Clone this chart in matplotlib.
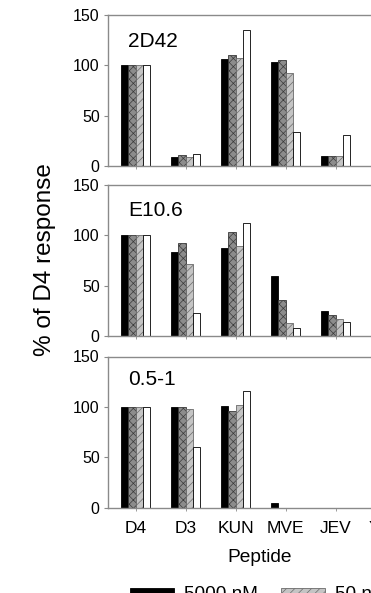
import numpy as np
import matplotlib
matplotlib.use("Agg")
import matplotlib.pyplot as plt

plt.rcParams['font.family'] = ['Liberation Sans', 'DejaVu Sans']
plt.rcParams['hatch.linewidth'] = 0.5

peptides = ['D4', 'D3', 'KUN', 'MVE', 'JEV', 'YFV']
doses = ['5000 nM', '500 nM', '50 nM', '5 nM']
panels = ['2D42', 'E10.6', '0.5-1']

# % of D4 response, one row per dose (5000, 500, 50, 5 nM)
resp_2d42 = [
    [100, 9, 106, 103, 10, 9],
    [100, 11, 110, 105, 10, 9],
    [100, 8.5, 107, 92, 10, 9],
    [100, 11.5, 135, 34, 31, 9],
]
resp_e106 = [
    [100, 83, 87, 60, 25, 8],
    [100, 92, 103, 36, 21, 8],
    [100, 72, 89, 13, 17, 8],
    [100, 23, 112, 8, 14, 8],
]
resp_051 = [
    [100, 100, 101, 4, 0, 0],
    [100, 100, 96, 0, 0, 0],
    [100, 98, 102, 0, 0, 0],
    [100, 60, 116, 0, 0, 0],
]
all_resp = [resp_2d42, resp_e106, resp_051]

styles = [
    dict(facecolor='black', edgecolor='black', hatch=None),
    dict(facecolor='#8c8c8c', edgecolor='#3a3a3a', hatch='xxxx'),
    dict(facecolor='#c4c4c4', edgecolor='#6a6a6a', hatch='////'),
    dict(facecolor='white', edgecolor='black', hatch=None),
]

fig = plt.figure(figsize=(3.71, 5.93), dpi=100)
W, H = 371.0, 593.0
left = 108 / W
width = 303 / W
bottoms = [166, 336, 507.5]
ax_h = 151 / H

x = np.arange(len(peptides))
bw = 0.145
offs = (np.arange(4) - 1.5) * bw
label_y = [118, 119, 122]
spine_c = '#8a8a8a'

for i, (name, resp) in enumerate(zip(panels, all_resp)):
    ax = fig.add_axes([left, 1 - bottoms[i] / H, width, ax_h])
    bars = []
    for j in range(4):
        b = ax.bar(x + offs[j], resp[j], bw, linewidth=0.6, label=doses[j], **styles[j])
        bars.append(b)
    ax.set_xlim(-0.55, 5.51)
    ax.set_ylim(0, 150)
    ax.set_yticks([0, 50, 100, 150])
    ax.set_xticks(x)
    ax.tick_params(axis='y', labelsize=11.5, length=3, width=0.8, color=spine_c, pad=3)
    ax.tick_params(axis='x', length=2, width=0.6, color=spine_c, labelsize=12.5, pad=8)
    for s in ax.spines.values():
        s.set_color(spine_c)
        s.set_linewidth(1.0)
    if i < 2:
        ax.set_xticklabels([])
    else:
        ax.set_xticklabels(peptides)
        ax.set_xlabel('Peptide', fontsize=13.8, labelpad=9)
    ax.text(-0.15, label_y[i], name, fontsize=15, va='baseline', ha='left')
    if i == 0:
        handles = bars

fig.text(45 / W, 1 - 260 / H, '% of D4 response', rotation=90,
         fontsize=17.5, ha='center', va='center')

fig.legend(handles=handles, labels=doses, ncol=2, loc='upper left',
           bbox_to_anchor=(113 / W, 0.040), frameon=False, fontsize=13.7,
           handlelength=2.3, handleheight=0.4, handletextpad=0.55,
           columnspacing=1.2, borderpad=0.4)

fig.savefig('out.png', dpi=100)
